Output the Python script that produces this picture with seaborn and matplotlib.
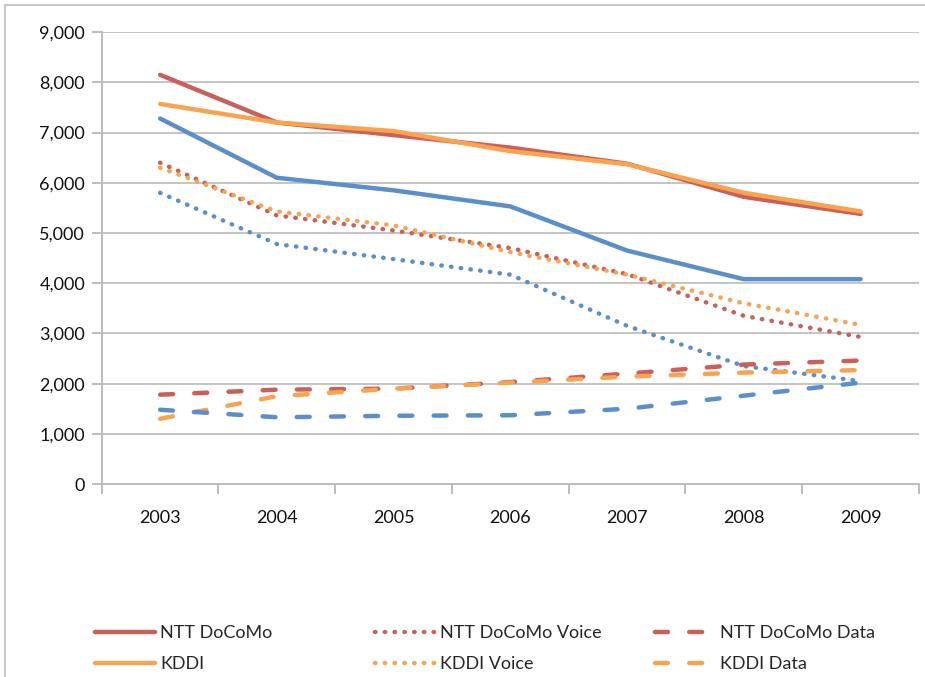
import matplotlib.pyplot as plt
import seaborn as sns
import pandas as pd
from matplotlib.lines import Line2D
from matplotlib.ticker import FuncFormatter, MultipleLocator, FixedLocator

# Values
years = ["2003", "2004", "2005", "2006", "2007", "2008", "2009"]

ntt_total = [8150, 7200, 6950, 6700, 6380, 5720, 5380]
kddi_total = [7570, 7200, 7030, 6630, 6370, 5800, 5430]
sb_total = [7280, 6100, 5850, 5530, 4650, 4080, 4080]

ntt_voice = [6400, 5350, 5050, 4700, 4180, 3350, 2930]
kddi_voice = [6300, 5430, 5150, 4620, 4170, 3600, 3170]
sb_voice = [5800, 4780, 4480, 4170, 3150, 2350, 2050]

ntt_data = [1780, 1880, 1900, 2030, 2200, 2380, 2460]
kddi_data = [1300, 1750, 1900, 2020, 2140, 2220, 2270]
sb_data = [1480, 1330, 1360, 1370, 1500, 1760, 2020]

red = "#c9605a"
orange = "#f9a34f"
blue = "#5b8fcb"

series = [
    ("NTT DoCoMo", ntt_total, red, "solid"),
    ("KDDI", kddi_total, orange, "solid"),
    ("_sb", sb_total, blue, "solid"),
    ("NTT DoCoMo Voice", ntt_voice, red, "dotted"),
    ("KDDI Voice", kddi_voice, orange, "dotted"),
    ("_sbv", sb_voice, blue, "dotted"),
    ("NTT DoCoMo Data", ntt_data, red, "dashed"),
    ("KDDI Data", kddi_data, orange, "dashed"),
    ("_sbd", sb_data, blue, "dashed"),
]

sns.set_style("white")
plt.rcParams["font.family"] = ["Lato", "DejaVu Sans"]

fig = plt.figure(figsize=(9.25, 6.77), dpi=100)
ax = fig.add_axes([0.110, 0.285, 0.8835, 0.6675])

LW = 3.2
styles = {"solid": (0, ()),
          "dotted": (0, (0.1, 2.1)),
          "dashed": (0, (2.9, 4.8))}

info = {}
for name, vals, col, ls in series:
    df = pd.DataFrame({"year": range(len(years)), "value": vals})
    sns.lineplot(data=df, x="year", y="value", ax=ax, color=col, linewidth=LW,
                 solid_capstyle="round", dash_capstyle="round",
                 linestyle="-" if ls == "solid" else styles[ls])
    info[name] = (col, ls)

ax.set_xlim(-0.5, len(years) - 0.5)
ax.set_ylim(0, 9000)
ax.yaxis.set_major_locator(MultipleLocator(1000))
ax.yaxis.set_major_formatter(FuncFormatter(lambda v, p: f"{int(v):,}"))
ax.xaxis.set_major_locator(FixedLocator(range(len(years))))
ax.set_xticklabels(years)
ax.xaxis.set_minor_locator(FixedLocator([i - 0.5 for i in range(len(years) + 1)]))
ax.set_xlabel("")
ax.set_ylabel("")

ax.grid(axis="y", color="#c4c4c4", linewidth=1.4)
ax.set_axisbelow(True)
for s in ["top", "right"]:
    ax.spines[s].set_visible(False)
for s in ["left", "bottom"]:
    ax.spines[s].set_color("#bdbdbd")
    ax.spines[s].set_linewidth(1.4)

ax.tick_params(axis="y", which="major", length=7, width=1.4, color="#bdbdbd",
               pad=5, labelsize=13, labelcolor="#111111", left=True)
ax.tick_params(axis="x", which="major", length=0, pad=19, labelsize=13,
               labelcolor="#111111")
ax.tick_params(axis="x", which="minor", length=7, width=1.4, color="#bdbdbd",
               bottom=True)

# legend in three columns, two rows each
cols = [["NTT DoCoMo", "KDDI"],
        ["NTT DoCoMo Voice", "KDDI Voice"],
        ["NTT DoCoMo Data", "KDDI Data"]]
xpos = [95 / 925, 375 / 925, 655 / 925]
for names, xp in zip(cols, xpos):
    hs = []
    for n in names:
        col, ls = info[n]
        hs.append(Line2D([], [], color=col, linewidth=LW,
                         linestyle="-" if ls == "solid" else styles[ls],
                         solid_capstyle="round", dash_capstyle="round"))
    fig.legend(hs, names, loc="upper left", bbox_to_anchor=(xp, 1 - 625 / 677),
               frameon=False, fontsize=13, handlelength=3.3, handletextpad=0.3,
               labelspacing=0.85, borderpad=0, borderaxespad=0)

# outer chart frame (partially visible)
fig.add_artist(Line2D([5 / 925, 5 / 925], [0, 1 - 5 / 677], transform=fig.transFigure,
                      color="#c8c8c8", linewidth=1.5))
fig.add_artist(Line2D([5 / 925, 1], [1 - 5 / 677, 1 - 5 / 677], transform=fig.transFigure,
                      color="#c8c8c8", linewidth=1.5))

fig.savefig("out.png", dpi=100)
